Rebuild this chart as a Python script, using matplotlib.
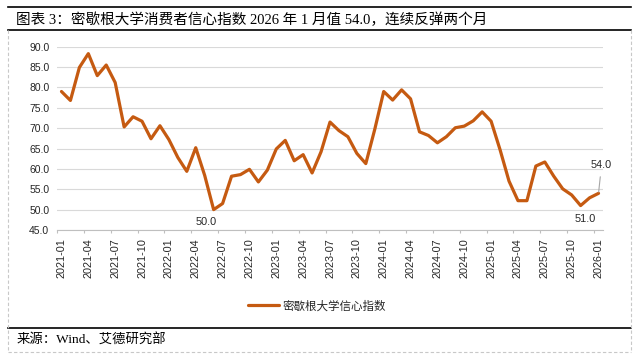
import matplotlib
matplotlib.use('Agg')
import matplotlib.pyplot as plt
from matplotlib.lines import Line2D
import pandas as pd

# ---------------- data ----------------
months = pd.period_range('2021-01', '2026-01', freq='M').strftime('%Y-%m').tolist()
values = [79.0, 76.8, 84.9, 88.3, 82.9, 85.5, 81.2, 70.3, 72.8, 71.7, 67.4, 70.6,
          67.2, 62.8, 59.4, 65.2, 58.4, 50.0, 51.5, 58.2, 58.6, 59.9, 56.8, 59.7,
          64.9, 67.0, 62.0, 63.5, 59.0, 64.2, 71.5, 69.4, 67.9, 63.8, 61.3, 69.7,
          79.0, 76.9, 79.4, 77.2, 69.1, 68.2, 66.4, 67.9, 70.1, 70.5, 71.8, 74.0,
          71.7, 64.7, 57.0, 52.2, 52.2, 60.7, 61.7, 58.2, 55.1, 53.6, 51.0, 52.9,
          54.0]
tick_labels = months[::3]
y_ticks = [45, 50, 55, 60, 65, 70, 75, 80, 85, 90]
series_name = '密歇根大学信心指数'
title = '图表 3：密歇根大学消费者信心指数 2026 年 1 月值 54.0，连续反弹两个月'
source = '来源：Wind、艾德研究部'
labelled_months = ['2022-06', '2025-11', '2026-01']

# ---------------- layout ----------------
W, H = 635, 359
fig = plt.figure(figsize=(W / 100, H / 100), dpi=100)
fig.patch.set_facecolor('white')

ax = fig.add_axes([57 / W, 1 - 230 / H, 546 / W, (230 - 46.7) / H])

x = list(range(len(months)))
line, = ax.plot(x, values, color='#C55A11', lw=2.3, solid_joinstyle='round',
                solid_capstyle='round', zorder=3)

ax.set_xlim(-0.5, len(months) - 0.5)
ax.set_ylim(45, 90)

num_font = ['Liberation Sans', 'DejaVu Sans']
cjk_font = ['Noto Sans CJK SC', 'DejaVu Sans']
serif_cjk = ['Liberation Serif', 'Noto Sans CJK SC']
txt_color = '#262626'

ax.set_yticks(y_ticks)
ax.set_yticklabels([f'{v:.1f}' for v in y_ticks], family=num_font, fontsize=7.5,
                   color=txt_color)
ax.tick_params(axis='y', length=0, pad=5.5)

tick_pos = [months.index(m) for m in tick_labels]
ax.set_xticks(tick_pos)
ax.set_xticklabels(tick_labels, rotation=90, family=num_font, fontsize=7.8,
                   color=txt_color)
ax.set_xticks([p - 0.5 for p in tick_pos], minor=True)
ax.tick_params(axis='x', which='major', length=0, pad=6)
ax.tick_params(axis='x', which='minor', length=2.3, width=0.8, color='#BFBFBF')

ax.grid(axis='y', color='#D9D9D9', lw=0.8)
ax.set_axisbelow(True)
for s in ['left', 'right', 'top']:
    ax.spines[s].set_visible(False)
ax.spines['bottom'].set_color('#BFBFBF')
ax.spines['bottom'].set_linewidth(0.8)

# data labels
offsets = {'2022-06': (-7.5, -12), '2025-11': (4.5, -13.5), '2026-01': (2.5, 28.5)}
for m in labelled_months:
    i = months.index(m)
    v = values[i]
    if m == '2026-01':
        ax.annotate(f'{v:.1f}', xy=(i, v), xytext=offsets[m],
                    textcoords='offset pixels', ha='center', va='center',
                    family=num_font, fontsize=7.8, color=txt_color,
                    arrowprops=dict(arrowstyle='-', color='#A6A6A6', lw=0.8,
                                    relpos=(0.5, 0.0), shrinkA=3, shrinkB=1))
    else:
        ax.annotate(f'{v:.1f}', xy=(i, v), xytext=offsets[m],
                    textcoords='offset pixels', ha='center', va='center',
                    family=num_font, fontsize=7.8, color=txt_color)

# legend
fig.legend([line], [series_name], loc='center',
           bbox_to_anchor=(317 / W, 1 - 306 / H), frameon=False,
           prop={'family': cjk_font, 'size': 8.3}, handlelength=2.76,
           handletextpad=0.3, borderpad=0, borderaxespad=0, labelcolor=txt_color)

# frame lines
def hline(y, x0, x1, **kw):
    fig.add_artist(Line2D([x0 / W, x1 / W], [1 - y / H, 1 - y / H],
                          transform=fig.transFigure, **kw))

def vline(xp, y0, y1, **kw):
    fig.add_artist(Line2D([xp / W, xp / W], [1 - y0 / H, 1 - y1 / H],
                          transform=fig.transFigure, **kw))

hline(7, 8, 631, color='black', lw=1.2)
hline(30, 8, 631, color='black', lw=1.2)
hline(328.3, 8, 631, color='black', lw=1.2)
dash = dict(color='#C8C8C8', lw=0.8, linestyle=(0, (3, 2)))
vline(8, 30, 352, **dash)
vline(630.5, 30, 352, **dash)
hline(352, 8, 630.5, **dash)

# title and source
fig.text(16 / W, 1 - 19.5 / H, title, fontsize=10.5, family=serif_cjk,
         ha='left', va='center', color='black')
fig.text(17 / W, 1 - 340 / H, source, fontsize=9.6, family=serif_cjk,
         ha='left', va='center', color='black')

fig.savefig('out.png', dpi=100, facecolor='white')
